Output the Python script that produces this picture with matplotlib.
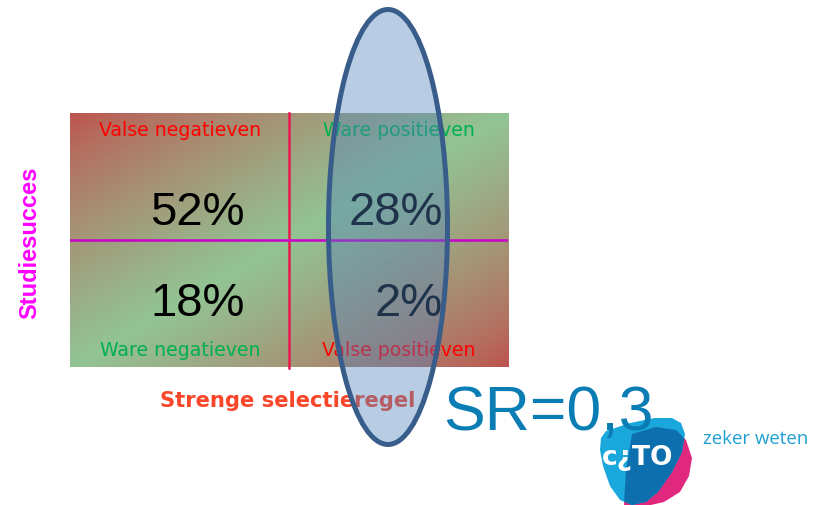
import numpy as np
import matplotlib
matplotlib.use("Agg")
import matplotlib.pyplot as plt
from matplotlib.patches import Ellipse, Polygon

# Share of candidates per cell of the decision matrix (rows: success / failure,
# columns: rejected / admitted)
row_names = ["succes", "geen succes"]
col_names = ["afgewezen", "toegelaten"]
percentages = [[52, 28],
               [18, 2]]
cell_labels = [["Valse negatieven", "Ware positieven"],
               ["Ware negatieven", "Valse positieven"]]
label_colors = [["#FF0000", "#00B050"],
                ["#00B050", "#FF0000"]]
y_title = "Studiesucces"
x_title = "Strenge selectieregel"

# Selection ratio = share admitted (right column)
selection_ratio = sum(row[1] for row in percentages) / 100.0
sr_text = "SR=" + f"{selection_ratio:.1f}".replace(".", ",")

W, H = 817, 505
fig = plt.figure(figsize=(W / 100, H / 100), dpi=100)
fig.patch.set_facecolor("white")

# Matrix area in pixels
mx0, mx1, my0, my1 = 70, 508, 113, 367
ax = fig.add_axes([mx0 / W, 1 - my1 / H, (mx1 - mx0) / W, (my1 - my0) / H])
ax.set_xlim(0, 2)
ax.set_ylim(0, 2)
ax.axis("off")

# Diagonal gradient: red in the two "false" corners, green along the other diagonal
red = np.array([192, 80, 77]) / 255
green = np.array([146, 196, 148]) / 255
nx, ny = 440, 256
u = np.linspace(0, 1, nx)[None, :]
v = np.linspace(0, 1, ny)[:, None]
t = (u + v) / 2
g = np.clip(1 - np.abs(2 * t - 1), 0, 1) ** 0.75
img = red[None, None, :] * (1 - g[..., None]) + green[None, None, :] * g[..., None]
ax.imshow(img, extent=(0, 2, 0, 2), origin="upper", aspect="auto",
          interpolation="bilinear", zorder=0)

# Dividers
ax.plot([1, 1], [-0.01, 2], color="#E8194F", lw=1.8, zorder=2, clip_on=False)
ax.plot([0, 2], [1, 1], color="#C800C8", lw=1.8, zorder=2)

# Overlay in pixel coordinates for text and decorations
ov = fig.add_axes([0, 0, 1, 1])
ov.set_xlim(0, W)
ov.set_ylim(H, 0)
ov.axis("off")
ov.patch.set_alpha(0)

num_right = [245, 443]
num_base = [225, 316]
lab_center = [180, 399]
lab_y = [131, 350]
for r in range(2):
    for c in range(2):
        ov.text(num_right[c], num_base[r], f"{percentages[r][c]}%",
                ha="right", va="baseline", fontsize=34,
                family="Liberation Sans", color="black", zorder=3)
        ov.text(lab_center[c], lab_y[r], cell_labels[r][c], ha="center",
                va="center", fontsize=13.6, family="DejaVu Sans",
                color=label_colors[r][c], zorder=3)

ov.text(30, 243, y_title, rotation=90, ha="center", va="center",
        fontsize=17, fontweight="bold", family="Liberation Sans",
        color="#FF00FF", zorder=3)
ov.text(160, 401, x_title, ha="left", va="center", fontsize=15.2,
        fontweight="bold", family="DejaVu Sans", color="#FA4628", zorder=3)

# Ellipse marking the admitted column
ov.add_patch(Ellipse((388, 227), 119, 435, facecolor=(79 / 255, 129 / 255, 189 / 255, 0.4),
                     edgecolor="#385D8A", lw=3.6, zorder=5))

# Logo
pink_pts = [(632, 434), (656, 427), (676, 430), (686, 440), (692, 458), (689, 476),
            (680, 492), (664, 502), (642, 507), (624, 505), (626, 470)]
ov.add_patch(Polygon(pink_pts, closed=True, facecolor="#E0287F",
                     edgecolor="none", zorder=6))
shield_pts = [(601, 438), (606, 431), (630, 423), (655, 418), (672, 418), (681, 423),
              (685, 434), (682, 452), (672, 472), (658, 492), (646, 502),
              (632, 505), (620, 500), (610, 486), (603, 466), (600, 450)]
shield = Polygon(shield_pts, closed=True, facecolor="#1AA7DB", edgecolor="none", zorder=7)
ov.add_patch(shield)
dark = Polygon(pink_pts, closed=True, facecolor="#0E6FAE", edgecolor="none", zorder=8)
ov.add_patch(dark)
dark.set_clip_path(shield)
ov.text(638, 458, "c¿TO", ha="center", va="center", fontsize=19, fontweight="bold",
        family="DejaVu Sans", color="white", zorder=9)

ov.text(443, 430, sr_text, ha="left", va="baseline", fontsize=45,
        family="Liberation Sans", color="#0A7DB4", zorder=10)

ov.text(703, 439, "zeker weten", ha="left", va="center", fontsize=13.4,
        family="Open Sans", color="#1E9FD2", zorder=10)

fig.savefig("out.png", dpi=100, facecolor="white")
